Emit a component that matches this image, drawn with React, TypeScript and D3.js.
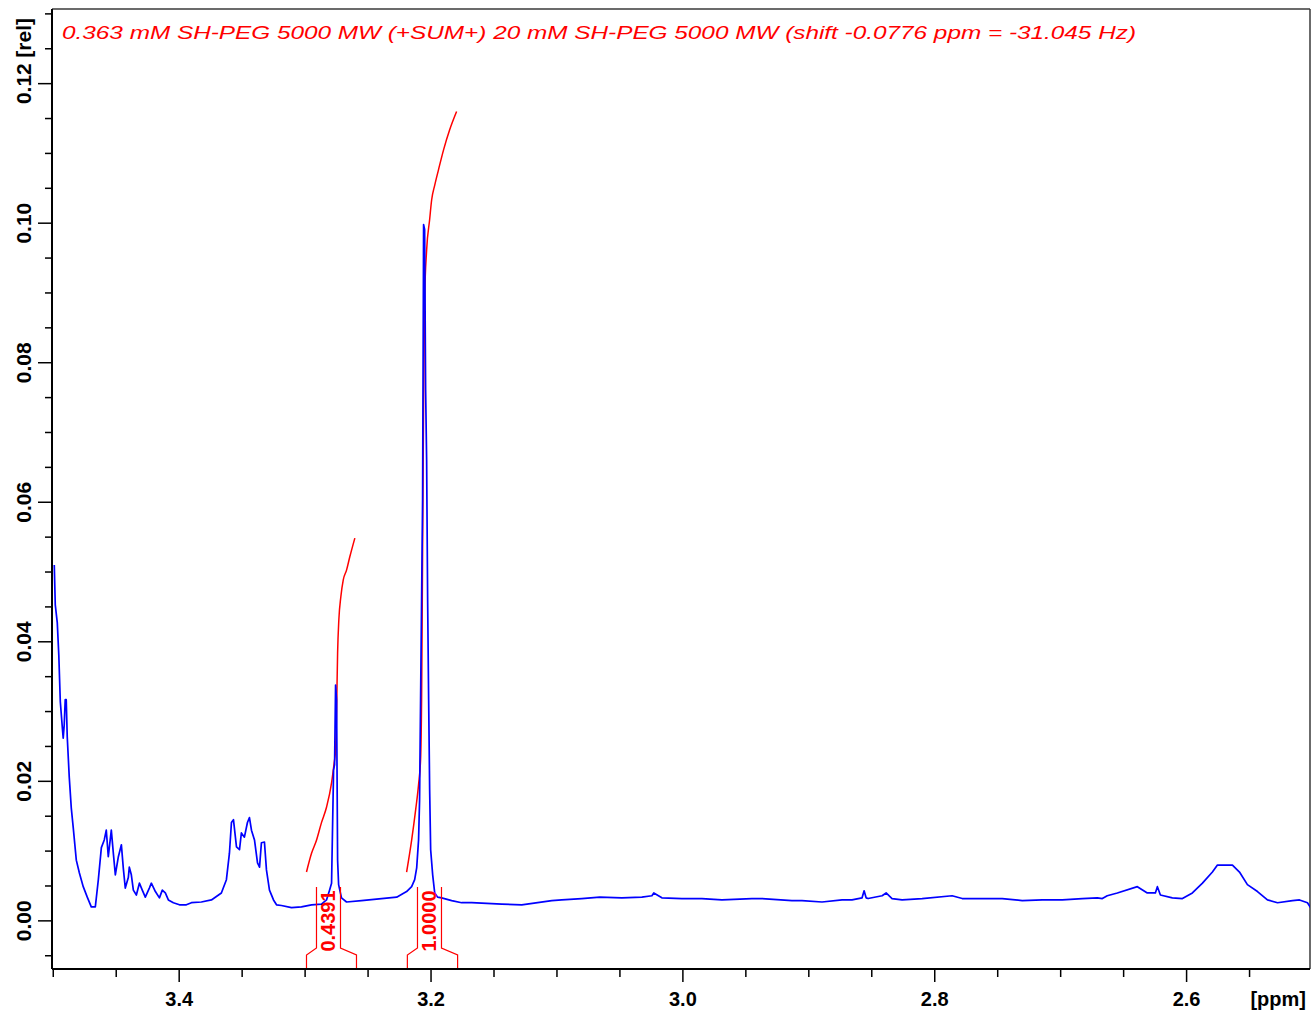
import React from 'react';
import * as d3 from 'd3';

// Canvas and plot frame (pixels)
const WIDTH = 1312;
const HEIGHT = 1016;
const FRAME = { left: 52, right: 1310, top: 9, bottom: 969 };

// Axis domains
const PPM_DOMAIN: [number, number] = [3.501, 2.502];
const REL_DOMAIN: [number, number] = [-0.0069, 0.1307];

const TITLE = '0.363 mM SH-PEG 5000 MW (+SUM+) 20 mM SH-PEG 5000 MW (shift -0.0776 ppm = -31.045 Hz)';

// Tick definitions
const X_LABEL_TICKS = [3.4, 3.2, 3.0, 2.8, 2.6];
const Y_LABEL_TICKS = [0.0, 0.02, 0.04, 0.06, 0.08, 0.1, 0.12];

// 1H spectrum: chemical shift (ppm) and relative intensity
const spectrumPpm = [
  3.4992, 3.4984, 3.4968, 3.4956, 3.4944, 3.4928, 3.4921, 3.4913, 3.4905, 3.4897,
  3.4889, 3.4873, 3.4857, 3.4841, 3.4817, 3.4793, 3.4762, 3.473, 3.4698, 3.4666,
  3.4642, 3.4618, 3.4595, 3.4579, 3.4563, 3.4539, 3.4523, 3.4507, 3.4483, 3.4459,
  3.4444, 3.4428, 3.4404, 3.4396, 3.438, 3.4364, 3.434, 3.4316, 3.4293, 3.4269,
  3.4237, 3.4221, 3.4189, 3.4157, 3.4134, 3.411, 3.4086, 3.4046, 3.3998, 3.3943,
  3.3903, 3.3824, 3.3744, 3.3665, 3.3625, 3.3601, 3.3585, 3.3569, 3.3545, 3.3521,
  3.3506, 3.3482, 3.3458, 3.3442, 3.3426, 3.3402, 3.3378, 3.3362, 3.3347, 3.3323,
  3.3307, 3.3283, 3.3251, 3.3227, 3.3188, 3.3108, 3.3029, 3.2949, 3.287, 3.283,
  3.2806, 3.279, 3.2774, 3.2766, 3.2758, 3.275, 3.2742, 3.2734, 3.2711, 3.2671,
  3.2552, 3.2393, 3.2273, 3.2194, 3.2154, 3.213, 3.2114, 3.2099, 3.2091, 3.2083,
  3.2075, 3.2067, 3.2059, 3.2051, 3.2043, 3.2035, 3.2027, 3.2019, 3.2011, 3.2003,
  3.1987, 3.1971, 3.1948, 3.1916, 3.1836, 3.1757, 3.1677, 3.1439, 3.128, 3.1041,
  3.0962, 3.0803, 3.066, 3.0485, 3.0326, 3.0246, 3.0231, 3.0167, 3.0008, 2.9849,
  2.969, 2.9452, 2.9372, 2.9134, 2.9054, 2.8895, 2.8736, 2.8657, 2.8577, 2.8561,
  2.8545, 2.8529, 2.8418, 2.8386, 2.8339, 2.8259, 2.81, 2.7862, 2.7782, 2.7544,
  2.7464, 2.7305, 2.7146, 2.7067, 2.6987, 2.6828, 2.6709, 2.6669, 2.663, 2.655,
  2.6391, 2.6312, 2.6248, 2.6232, 2.6208, 2.6113, 2.6033, 2.5954, 2.5874, 2.5795,
  2.5755, 2.5636, 2.558, 2.5517, 2.5437, 2.5358, 2.5278, 2.5159, 2.5103, 2.504,
  2.5016,
];
const spectrumIntensity = [
  0.051, 0.0453, 0.0427, 0.0381, 0.0314, 0.0277, 0.0262, 0.0281, 0.0317, 0.0317,
  0.0264, 0.0206, 0.0162, 0.0133, 0.0087, 0.0069, 0.0049, 0.0034, 0.002, 0.002,
  0.0059, 0.0105, 0.0116, 0.013, 0.0092, 0.013, 0.0097, 0.0066, 0.0092, 0.0109,
  0.0076, 0.0047, 0.0062, 0.0077, 0.0066, 0.0044, 0.0037, 0.0054, 0.0044, 0.0034,
  0.0047, 0.0054, 0.0042, 0.0033, 0.0044, 0.004, 0.003, 0.0026, 0.0023, 0.0023,
  0.0026, 0.0027, 0.003, 0.004, 0.0059, 0.0097, 0.0141, 0.0145, 0.0106, 0.0102,
  0.0126, 0.012, 0.0141, 0.0148, 0.013, 0.0116, 0.0083, 0.0077, 0.0112, 0.0113,
  0.0073, 0.0044, 0.003, 0.0023, 0.0022, 0.0019, 0.002, 0.0023, 0.0024, 0.003,
  0.0044, 0.0054, 0.0216, 0.0224, 0.0338, 0.0317, 0.0087, 0.0052, 0.0033, 0.0027,
  0.0029, 0.0032, 0.0034, 0.0042, 0.0049, 0.0059, 0.0076, 0.0116, 0.0173, 0.0317,
  0.046, 0.0604, 0.0998, 0.0991, 0.0761, 0.0661, 0.046, 0.0317, 0.0188, 0.0102,
  0.0066, 0.004, 0.0034, 0.0033, 0.0029, 0.0026, 0.0026, 0.0024, 0.0023, 0.0029,
  0.003, 0.0032, 0.0034, 0.0033, 0.0034, 0.0036, 0.004, 0.0033, 0.0032, 0.0032,
  0.003, 0.0032, 0.0032, 0.0029, 0.0029, 0.0027, 0.003, 0.003, 0.0033, 0.0043,
  0.0033, 0.0032, 0.0036, 0.004, 0.0032, 0.003, 0.0032, 0.0036, 0.0032, 0.0032,
  0.0032, 0.0029, 0.003, 0.003, 0.003, 0.0032, 0.0033, 0.0032, 0.0036, 0.004,
  0.0049, 0.004, 0.004, 0.0049, 0.0037, 0.0033, 0.0032, 0.004, 0.0054, 0.007,
  0.008, 0.008, 0.007, 0.0052, 0.0042, 0.003, 0.0026, 0.0029, 0.003, 0.0026,
  0.0019,
];

// Integration regions: limits (ppm) and integral values
const regionStart = [3.2989, 3.2188];
const regionEnd = [3.2592, 3.1789];
const regionIntegral = [0.4391, 1.0];

// Running integral across each region, as a fraction of the region total
const integralPpm = [
  [3.2989, 3.2949, 3.2909, 3.287, 3.283, 3.279, 3.2769, 3.2758, 3.275, 3.2742, 3.2732, 3.2716, 3.2697, 3.2671, 3.2645, 3.2605],
  [3.2194, 3.2154, 3.2122, 3.2099, 3.2083, 3.2075, 3.2067, 3.2059, 3.2051, 3.2035, 3.2011, 3.1995, 3.1971, 3.194, 3.19, 3.1852, 3.1797],
];
const integralFraction = [
  [0, 0.056, 0.096, 0.148, 0.194, 0.267, 0.328, 0.365, 0.486, 0.656, 0.756, 0.825, 0.875, 0.904, 0.944, 1.0],
  [0, 0.042, 0.082, 0.115, 0.148, 0.227, 0.424, 0.621, 0.752, 0.818, 0.858, 0.884, 0.903, 0.924, 0.95, 0.976, 1.0],
];
// Display scaling of the integral traces (relative units)
const INTEGRAL_OFFSET = 0.007;
const INTEGRAL_SCALE = 0.109;

const FONT = '"Liberation Sans", Arial, Helvetica, sans-serif';
const BLUE = '#0000ff';
const RED = '#ff0000';

export default function App() {
  const x = d3.scaleLinear().domain(PPM_DOMAIN).range([FRAME.left, FRAME.right]);
  const y = d3.scaleLinear().domain(REL_DOMAIN).range([FRAME.bottom, FRAME.top]);

  const spectrum = spectrumPpm.map((p, i) => [p, spectrumIntensity[i]] as [number, number]);
  const spectrumLine = d3
    .line<[number, number]>()
    .x((d) => x(d[0]))
    .y((d) => y(d[1]))
    .curve(d3.curveLinear);

  const integralLine = d3
    .line<[number, number]>()
    .x((d) => x(d[0]))
    .y((d) => y(d[1]))
    .curve(d3.curveMonotoneX);

  const integrals = integralPpm.map((ppms, r) =>
    ppms.map(
      (p, i) =>
        [p, INTEGRAL_OFFSET + integralFraction[r][i] * regionIntegral[r] * INTEGRAL_SCALE] as [number, number]
    )
  );

  // Ticks every 0.05 ppm along x, every 0.005 along y
  const xMinor = d3.range(0, 21).map((i) => +(3.5 - i * 0.05).toFixed(2)).filter((v) => v <= PPM_DOMAIN[0] && v >= PPM_DOMAIN[1]);
  const yMinor = d3.range(-1, 27).map((i) => +(i * 0.005).toFixed(3)).filter((v) => v >= REL_DOMAIN[0] && v <= REL_DOMAIN[1]);
  const isXMajor = (v: number) => X_LABEL_TICKS.some((t) => Math.abs(t - v) < 1e-6);
  const isYMajor = (v: number) => Y_LABEL_TICKS.some((t) => Math.abs(t - v) < 1e-6);

  const bracketTop = 887;
  const bracketKnee = 948;
  const bracketShoulder = 955;

  return (
    <svg
      width={WIDTH}
      height={HEIGHT}
      style={{ position: 'absolute', left: 0, top: 0, background: '#fff' }}
      fontFamily={FONT}
    >
      <rect x={0} y={0} width={WIDTH} height={HEIGHT} fill="#fff" />
      <defs>
        <clipPath id="plot-clip">
          <rect x={FRAME.left} y={FRAME.top} width={FRAME.right - FRAME.left} height={FRAME.bottom - FRAME.top} />
        </clipPath>
      </defs>

      {/* frame */}
      <line x1={FRAME.left} x2={FRAME.right} y1={FRAME.top} y2={FRAME.top} stroke="#3a3a3a" strokeWidth={1.5} />
      <line x1={FRAME.right} x2={FRAME.right} y1={FRAME.top} y2={FRAME.bottom} stroke="#3a3a3a" strokeWidth={1.5} />

      {/* title */}
      <text
        x={62}
        y={39}
        fontSize={19}
        fontStyle="italic"
        fill={RED}
        textLength={1074}
        lengthAdjust="spacingAndGlyphs"
      >
        {TITLE}
      </text>

      <g clipPath="url(#plot-clip)">
        {/* integral traces */}
        {integrals.map((pts, i) => (
          <path key={`int-${i}`} d={integralLine(pts) || ''} fill="none" stroke={RED} strokeWidth={1.5} />
        ))}
        {/* spectrum */}
        <path d={spectrumLine(spectrum) || ''} fill="none" stroke={BLUE} strokeWidth={1.7} strokeLinejoin="round" />
      </g>

      {/* integration region brackets and values */}
      {regionStart.map((s, i) => {
        const x0 = x(s);
        const x1 = x(regionEnd[i]);
        const c = (x0 + x1) / 2 - 3;
        const xi0 = c - 12;
        const xi1 = c + 12;
        const d = [
          `M${x0},${FRAME.bottom}V${bracketShoulder}L${xi0},${bracketKnee}V${bracketTop}`,
          `M${xi1},${bracketTop}V${bracketKnee}L${x1},${bracketShoulder}V${FRAME.bottom}`,
        ].join('');
        return (
          <g key={`reg-${i}`}>
            <path d={d} fill="none" stroke={RED} strokeWidth={1.2} />
            <text
              transform={`translate(${c},${921}) rotate(-90)`}
              textAnchor="middle"
              dominantBaseline="central"
              fontSize={20}
              fontWeight="bold"
              fill={RED}
            >
              {regionIntegral[i].toFixed(4)}
            </text>
          </g>
        );
      })}

      {/* y axis */}
      <line x1={FRAME.left} x2={FRAME.left} y1={FRAME.top} y2={FRAME.bottom} stroke="#000" strokeWidth={2} />
      {yMinor.map((v) => (
        <line
          key={`yt-${v}`}
          x1={FRAME.left - (isYMajor(v) ? 14 : 7)}
          x2={FRAME.left}
          y1={y(v)}
          y2={y(v)}
          stroke="#000"
          strokeWidth={1.5}
        />
      ))}
      {Y_LABEL_TICKS.map((v) => (
        <text
          key={`yl-${v}`}
          transform={`translate(${23},${y(v)}) rotate(-90)`}
          textAnchor="middle"
          dominantBaseline="central"
          fontSize={21}
          fontWeight="bold"
          fill="#000"
        >
          {v.toFixed(2)}
        </text>
      ))}
      <text
        transform={`translate(${23},${y(0.12) - 26}) rotate(-90)`}
        textAnchor="start"
        dominantBaseline="central"
        fontSize={21}
        fontWeight="bold"
        fill="#000"
      >
        [rel]
      </text>

      {/* x axis */}
      <line x1={FRAME.left} x2={FRAME.right} y1={FRAME.bottom} y2={FRAME.bottom} stroke="#000" strokeWidth={2} />
      {xMinor.map((v) => (
        <line
          key={`xt-${v}`}
          x1={x(v)}
          x2={x(v)}
          y1={FRAME.bottom}
          y2={FRAME.bottom + (isXMajor(v) ? 13 : 8)}
          stroke="#000"
          strokeWidth={1.5}
        />
      ))}
      {X_LABEL_TICKS.map((v) => (
        <text
          key={`xl-${v}`}
          x={x(v)}
          y={1006}
          textAnchor="middle"
          fontSize={20}
          fontWeight="bold"
          fill="#000"
        >
          {v.toFixed(1)}
        </text>
      ))}
      <text x={1306} y={1006} textAnchor="end" fontSize={20} fontWeight="bold" fill="#000">
        [ppm]
      </text>
    </svg>
  );
}
